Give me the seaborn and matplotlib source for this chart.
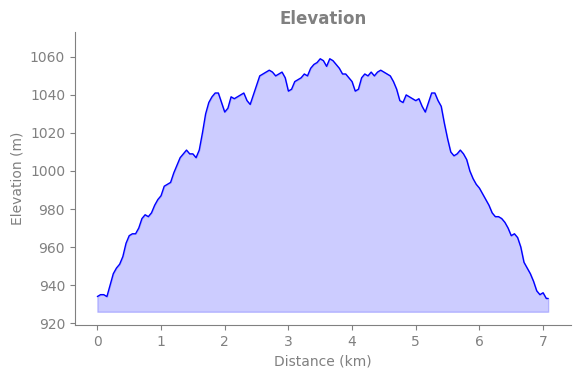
# elevation profile: distance vs elevation, filled area
import numpy as np
import pandas as pd
import matplotlib
matplotlib.use("Agg")
import matplotlib.pyplot as plt
import seaborn as sns

# values (every 0.05 km)
distance_km = [
    0.00, 0.05, 0.10, 0.15, 0.20, 0.25, 0.30, 0.35, 0.40, 0.45,
    0.50, 0.55, 0.60, 0.65, 0.70, 0.75, 0.80, 0.85, 0.90, 0.95,
    1.00, 1.05, 1.10, 1.15, 1.20, 1.25, 1.30, 1.35, 1.40, 1.45,
    1.50, 1.55, 1.60, 1.65, 1.70, 1.75, 1.80, 1.85, 1.90, 1.95,
    2.00, 2.05, 2.10, 2.15, 2.20, 2.25, 2.30, 2.35, 2.40, 2.45,
    2.50, 2.55, 2.60, 2.65, 2.70, 2.75, 2.80, 2.85, 2.90, 2.95,
    3.00, 3.05, 3.10, 3.15, 3.20, 3.25, 3.30, 3.35, 3.40, 3.45,
    3.50, 3.55, 3.60, 3.65, 3.70, 3.75, 3.80, 3.85, 3.90, 3.95,
    4.00, 4.05, 4.10, 4.15, 4.20, 4.25, 4.30, 4.35, 4.40, 4.45,
    4.50, 4.55, 4.60, 4.65, 4.70, 4.75, 4.80, 4.85, 4.90, 4.95,
    5.00, 5.05, 5.10, 5.15, 5.20, 5.25, 5.30, 5.35, 5.40, 5.45,
    5.50, 5.55, 5.60, 5.65, 5.70, 5.75, 5.80, 5.85, 5.90, 5.95,
    6.00, 6.05, 6.10, 6.15, 6.20, 6.25, 6.30, 6.35, 6.40, 6.45,
    6.50, 6.55, 6.60, 6.65, 6.70, 6.75, 6.80, 6.85, 6.90, 6.95,
    7.00, 7.05, 7.08,
]
elevation_m = [
    934, 935, 935, 934, 940, 946, 949, 951, 955, 962,
    966, 967, 967, 970, 975, 977, 976, 978, 982, 985,
    987, 992, 993, 994, 999, 1003, 1007, 1009, 1011, 1009,
    1009, 1007, 1011, 1020, 1030, 1036, 1039, 1041, 1041, 1036,
    1031, 1033, 1039, 1038, 1039, 1040, 1041, 1037, 1035, 1040,
    1045, 1050, 1051, 1052, 1053, 1052, 1050, 1051, 1052, 1049,
    1042, 1043, 1047, 1048, 1049, 1051, 1050, 1054, 1056, 1057,
    1059, 1058, 1055, 1059, 1058, 1056, 1054, 1051, 1051, 1049,
    1047, 1042, 1043, 1049, 1051, 1050, 1052, 1050, 1052, 1053,
    1052, 1051, 1050, 1047, 1043, 1037, 1036, 1040, 1039, 1038,
    1037, 1038, 1034, 1031, 1036, 1041, 1041, 1037, 1034, 1025,
    1017, 1010, 1008, 1009, 1011, 1009, 1006, 1000, 996, 993,
    991, 988, 985, 982, 978, 976, 976, 975, 973, 970,
    966, 967, 965, 960, 952, 949, 946, 942, 937, 935,
    936, 933, 933,
]
fill_base = 926

df = pd.DataFrame({"distance": distance_km, "elevation": elevation_m})

sns.set_style("ticks")
plt.rcParams["font.family"] = ["DejaVu Sans"]

fig, ax = plt.subplots(figsize=(5.8, 3.78), dpi=100)
fig.subplots_adjust(left=0.129, right=0.984, bottom=0.140, top=0.915)

sns.lineplot(data=df, x="distance", y="elevation", color="blue", linewidth=1, ax=ax)
ax.fill_between(df["distance"], df["elevation"], fill_base, color="blue", alpha=0.2)

ax.set_ylim(919, 1073)
ax.set_yticks(np.arange(920, 1061, 20))
ax.set_title("Elevation", color="gray", fontweight="bold", fontsize=12)
ax.set_xlabel("Distance (km)", color="gray")
ax.set_ylabel("Elevation (m)", color="gray")
ax.tick_params(colors="gray")
sns.despine(ax=ax)
for s in ["left", "bottom"]:
    ax.spines[s].set_color("gray")

plt.savefig("out.png", dpi=100)
